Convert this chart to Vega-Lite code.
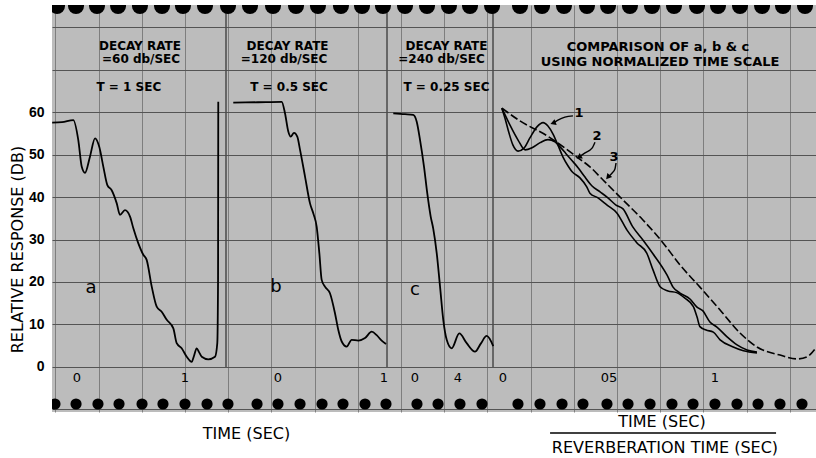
{
  "$schema": "https://vega.github.io/schema/vega-lite/v6.json",
  "width": 764,
  "height": 407,
  "autosize": "none",
  "padding": {"left": 52, "top": 5, "right": 0, "bottom": 46},
  "background": "white",
  "config": {
    "font": "DejaVu Sans",
    "view": {"fill": "#bcbcbc", "stroke": null}
  },
  "datasets": {
    "top_holes": [{"t":-0.185},{"t":-0.009},{"t":0.185},{"t":0.380},{"t":0.583},{"t":0.787},{"t":0.981},{"t":1.185},{"t":1.398},{"t":1.602},{"t":1.815},{"t":2.028},{"t":2.231},{"t":2.444},{"t":2.639},{"t":2.833},{"t":3.037},{"t":3.241},{"t":3.444},{"t":3.639},{"t":3.843},{"t":4.102},{"t":4.306},{"t":4.509},{"t":4.722},{"t":4.917},{"t":5.120},{"t":5.324},{"t":5.528},{"t":5.741},{"t":5.935},{"t":6.139},{"t":6.343},{"t":6.537},{"t":6.741}],
    "bottom_holes": [{"t":-0.204},{"t":-0.009},{"t":0.194},{"t":0.389},{"t":0.602},{"t":0.796},{"t":1.000},{"t":1.204},{"t":1.398},{"t":1.667},{"t":1.861},{"t":2.065},{"t":2.269},{"t":2.463},{"t":2.667},{"t":2.861},{"t":3.148},{"t":3.343},{"t":3.546},{"t":3.750},{"t":4.083},{"t":4.287},{"t":4.491},{"t":4.685},{"t":4.907},{"t":5.102},{"t":5.306},{"t":5.509},{"t":5.704},{"t":5.907},{"t":6.111},{"t":6.306},{"t":6.509},{"t":6.713}],
    "splices": [{"t":1.3796},{"t":2.8704},{"t":3.8519}],
    "curve_a": [{"t":-0.23,"db":57.5},{"t":-0.139,"db":57.6},{"t":-0.034,"db":58.1},{"t":0.012,"db":53.4},{"t":0.044,"db":47.1},{"t":0.074,"db":45.7},{"t":0.120,"db":49.5},{"t":0.167,"db":53.8},{"t":0.206,"db":51.8},{"t":0.244,"db":47.1},{"t":0.281,"db":42.8},{"t":0.321,"db":41.6},{"t":0.368,"db":38.5},{"t":0.398,"db":35.8},{"t":0.444,"db":36.9},{"t":0.491,"db":35.4},{"t":0.521,"db":32.7},{"t":0.568,"db":29.1},{"t":0.614,"db":26.4},{"t":0.645,"db":25.2},{"t":0.692,"db":18.9},{"t":0.738,"db":14.2},{"t":0.784,"db":13.0},{"t":0.831,"db":11.1},{"t":0.892,"db":9.1},{"t":0.923,"db":5.6},{"t":0.969,"db":4.4},{"t":1.016,"db":2.4},{"t":1.062,"db":1.2},{"t":1.083,"db":2.6},{"t":1.108,"db":4.4},{"t":1.130,"db":3.5},{"t":1.155,"db":2.4},{"t":1.216,"db":1.8},{"t":1.278,"db":2.4},{"t":1.299,"db":5.6},{"t":1.306,"db":20.5},{"t":1.308,"db":62.4}],
    "curve_b": [{"t":-0.422,"db":62.2},{"t":-0.189,"db":62.3},{"t":0.035,"db":62.4},{"t":0.066,"db":59.7},{"t":0.097,"db":55.4},{"t":0.120,"db":54.2},{"t":0.151,"db":55.1},{"t":0.182,"db":54.2},{"t":0.208,"db":51.1},{"t":0.255,"db":44.8},{"t":0.302,"db":38.5},{"t":0.335,"db":36.0},{"t":0.365,"db":33.0},{"t":0.390,"db":26.8},{"t":0.412,"db":20.5},{"t":0.443,"db":18.9},{"t":0.491,"db":17.3},{"t":0.538,"db":12.6},{"t":0.569,"db":8.7},{"t":0.601,"db":6.0},{"t":0.648,"db":4.8},{"t":0.695,"db":6.4},{"t":0.758,"db":6.2},{"t":0.821,"db":6.8},{"t":0.884,"db":8.3},{"t":0.931,"db":7.5},{"t":0.978,"db":6.2},{"t":1.019,"db":5.4}],
    "curve_c": [{"t":-0.202,"db":59.7},{"t":-0.093,"db":59.5},{"t":-0.016,"db":59.3},{"t":0.016,"db":57.7},{"t":0.047,"db":53.4},{"t":0.084,"db":47.1},{"t":0.114,"db":40.9},{"t":0.146,"db":35.4},{"t":0.170,"db":32.5},{"t":0.202,"db":26.8},{"t":0.233,"db":18.9},{"t":0.263,"db":11.1},{"t":0.295,"db":6.4},{"t":0.341,"db":4.4},{"t":0.412,"db":7.9},{"t":0.481,"db":5.6},{"t":0.558,"db":3.6},{"t":0.612,"db":5.5},{"t":0.667,"db":7.3},{"t":0.728,"db":4.9}],
    "curves_d": [
      {"curve":"1","tn":-0.006,"db":60.9},{"curve":"1","tn":0.009,"db":58.6},{"curve":"1","tn":0.028,"db":55.1},{"curve":"1","tn":0.047,"db":52.2},{"curve":"1","tn":0.071,"db":50.8},{"curve":"1","tn":0.099,"db":51.5},{"curve":"1","tn":0.127,"db":53.9},{"curve":"1","tn":0.160,"db":56.5},{"curve":"1","tn":0.189,"db":57.5},{"curve":"1","tn":0.212,"db":56.7},{"curve":"1","tn":0.236,"db":54.8},{"curve":"1","tn":0.259,"db":52.2},{"curve":"1","tn":0.283,"db":49.4},{"curve":"1","tn":0.307,"db":47.3},{"curve":"1","tn":0.325,"db":46.0},{"curve":"1","tn":0.363,"db":44.5},{"curve":"1","tn":0.395,"db":42.4},{"curve":"1","tn":0.410,"db":40.9},{"curve":"1","tn":0.448,"db":39.8},{"curve":"1","tn":0.491,"db":38.1},{"curve":"1","tn":0.538,"db":36.2},{"curve":"1","tn":0.585,"db":32.2},{"curve":"1","tn":0.632,"db":29.2},{"curve":"1","tn":0.678,"db":26.8},{"curve":"1","tn":0.708,"db":22.8},{"curve":"1","tn":0.741,"db":18.9},{"curve":"1","tn":0.778,"db":17.9},{"curve":"1","tn":0.819,"db":17.5},{"curve":"1","tn":0.858,"db":16.2},{"curve":"1","tn":0.898,"db":14.2},{"curve":"1","tn":0.915,"db":11.8},{"curve":"1","tn":0.929,"db":9.5},{"curve":"1","tn":0.958,"db":8.7},{"curve":"1","tn":0.992,"db":8.2},{"curve":"1","tn":1.024,"db":6.4},{"curve":"1","tn":1.086,"db":4.7},{"curve":"1","tn":1.134,"db":3.8},{"curve":"1","tn":1.198,"db":3.3},
      {"curve":"2","tn":-0.005,"db":60.9},{"curve":"2","tn":0.033,"db":56.9},{"curve":"2","tn":0.071,"db":53.4},{"curve":"2","tn":0.104,"db":51.1},{"curve":"2","tn":0.137,"db":51.6},{"curve":"2","tn":0.175,"db":52.8},{"curve":"2","tn":0.212,"db":53.5},{"curve":"2","tn":0.245,"db":53.0},{"curve":"2","tn":0.269,"db":51.8},{"curve":"2","tn":0.297,"db":50.2},{"curve":"2","tn":0.325,"db":48.6},{"curve":"2","tn":0.354,"db":46.9},{"curve":"2","tn":0.382,"db":45.0},{"curve":"2","tn":0.420,"db":42.6},{"curve":"2","tn":0.458,"db":41.2},{"curve":"2","tn":0.495,"db":39.8},{"curve":"2","tn":0.533,"db":38.1},{"curve":"2","tn":0.566,"db":37.2},{"curve":"2","tn":0.613,"db":32.9},{"curve":"2","tn":0.660,"db":29.9},{"curve":"2","tn":0.708,"db":26.6},{"curve":"2","tn":0.774,"db":21.6},{"curve":"2","tn":0.802,"db":18.8},{"curve":"2","tn":0.835,"db":17.4},{"curve":"2","tn":0.882,"db":16.0},{"curve":"2","tn":0.915,"db":14.1},{"curve":"2","tn":0.943,"db":13.2},{"curve":"2","tn":0.976,"db":10.6},{"curve":"2","tn":1.009,"db":9.4},{"curve":"2","tn":1.057,"db":7.1},{"curve":"2","tn":1.104,"db":5.2},{"curve":"2","tn":1.151,"db":4.0},{"curve":"2","tn":1.198,"db":3.5}
    ],
    "curve_d3": [{"tn":-0.005,"db":60.9},{"tn":0.080,"db":57.9},{"tn":0.208,"db":54.4},{"tn":0.349,"db":49.4},{"tn":0.410,"db":47.1},{"tn":0.472,"db":44.0},{"tn":0.566,"db":39.3},{"tn":0.660,"db":34.6},{"tn":0.755,"db":29.2},{"tn":0.835,"db":24.0},{"tn":0.929,"db":18.8},{"tn":1.024,"db":13.4},{"tn":1.118,"db":8.0},{"tn":1.198,"db":4.7},{"tn":1.307,"db":2.8},{"tn":1.387,"db":1.9},{"tn":1.434,"db":2.4},{"tn":1.476,"db":4.5}],
    "arrows_d": [
      {"arrow":"1","tn":0.330,"db":59.1},{"arrow":"1","tn":0.292,"db":58.8},{"arrow":"1","tn":0.259,"db":58.1},{"arrow":"1","tn":0.236,"db":57.4},
      {"arrow":"2","tn":0.434,"db":52.9},{"arrow":"2","tn":0.420,"db":51.5},{"arrow":"2","tn":0.387,"db":50.4},{"arrow":"2","tn":0.358,"db":49.4},
      {"arrow":"3","tn":0.533,"db":48.0},{"arrow":"3","tn":0.528,"db":46.6},{"arrow":"3","tn":0.514,"db":45.6},{"arrow":"3","tn":0.495,"db":44.7}
    ],
    "arrow_tips": [{"tn":0.236,"db":57.4,"dir":-110},{"tn":0.358,"db":49.4,"dir":-120},{"tn":0.495,"db":44.7,"dir":-140}],
    "head_a": [{"label":"DECAY RATE","t":0.583,"db":75.5},{"label":"=60 db/SEC","t":0.593,"db":72.5},{"label":"T = 1 SEC","t":0.48,"db":65.9}],
    "ticks_a": [{"label":"0","t":0},{"label":"1","t":1}],
    "letter_a": [{"label":"a","t":0.13,"db":18.6}],
    "head_b": [{"label":"DECAY RATE","t":0.090,"db":75.5},{"label":"=120 db/SEC","t":0.057,"db":72.5},{"label":"T = 0.5 SEC","t":0.104,"db":65.9}],
    "ticks_b": [{"label":"0","t":0},{"label":"1","t":1}],
    "letter_b": [{"label":"b","t":-0.019,"db":18.8}],
    "head_c": [{"label":"DECAY RATE","t":0.293,"db":75.5},{"label":"=240 db/SEC","t":0.247,"db":72.5},{"label":"T = 0.25 SEC","t":0.293,"db":65.9}],
    "ticks_c": [{"label":"0","t":0},{"label":"4","t":0.4}],
    "letter_c": [{"label":"c","t":0.0,"db":18.1}],
    "head_d": [{"label":"COMPARISON OF a, b & c","tn":0.731,"db":75.3},{"label":"USING NORMALIZED TIME SCALE","tn":0.741,"db":71.8}],
    "ticks_d": [{"label":"0","tn":0},{"label":"05","tn":0.5},{"label":"1","tn":1.0}],
    "nums_d": [{"label":"1","tn":0.358,"db":59.8},{"label":"2","tn":0.443,"db":54.4},{"label":"3","tn":0.524,"db":49.4}],
    "frac_d": [{"label":"TIME (SEC)","tn":0.750,"db":-12.94},{"label":"REVERBERATION TIME (SEC)","tn":0.764,"db":-19.06}],
    "bar_d": [{"from":0.222,"to":1.288}]
  },
  "resolve": {"scale": {"x": "independent"}, "axis": {"x": "independent"}},
  "layer": [
    {
      "layer": [
        {
          "data": {"name": "splices"},
          "mark": {"type": "rule", "color": "#4a4a4a", "strokeWidth": 1.5},
          "encoding": {
            "x": {"field": "t", "type": "quantitative",
              "scale": {"domain": [-0.2315, 6.8426], "nice": false, "zero": false},
              "axis": {
                "values": [-0.2,0,0.2,0.4,0.6,0.8,1,1.2,1.4,1.6,1.8,2,2.2,2.4,2.6,2.8,3,3.2,3.4,3.6,3.8,4,4.2,4.4,4.6,4.8,5,5.2,5.4,5.6,5.8,6,6.2,6.4,6.6,6.8],
                "grid": true, "gridColor": "#7e7e7e", "gridWidth": 1,
                "labels": false, "ticks": false, "domain": false,
                "title": "TIME (SEC)", "titleX": 194, "titleY": 21,
                "titleBaseline": "middle", "titleAlign": "center",
                "titleFontSize": 16, "titleFontWeight": "normal", "titleColor": "black", "titleFont": "DejaVu Sans"
              }
            },
            "y": {"datum": 0, "type": "quantitative",
              "scale": {"domain": [-10.59, 85.18], "nice": false, "zero": false},
              "axis": {
                "values": [-10,-5,0,5,10,15,20,25,30,35,40,45,50,55,60,65,70,75,80,85],
                "grid": true,
                "gridColor": {"condition": {"test": "datum.value % 10 === 0", "value": "#545454"}, "value": "#8e8e8e"},
                "gridWidth": 1,
                "labelExpr": "datum.value >= 0 && datum.value <= 60 && datum.value % 10 === 0 ? datum.label : ''",
                "ticks": false, "domain": false, "labelPadding": 8,
                "labelFont": "Liberation Sans", "labelFontWeight": "bold", "labelFontSize": 14, "labelColor": "black",
                "title": "RELATIVE RESPONSE (DB)", "titleX": -35, "titleY": 244, "titleAngle": -90,
                "titleBaseline": "middle", "titleAlign": "center",
                "titleFontSize": 16, "titleFontWeight": "normal", "titleColor": "black", "titleFont": "DejaVu Sans"
              }
            },
            "y2": {"datum": 85.18}
          }
        },
        {
          "data": {"name": "top_holes"},
          "mark": {"type": "point", "shape": "circle", "filled": true, "color": "black", "opacity": 1, "size": 256, "clip": true},
          "encoding": {
            "x": {"field": "t", "type": "quantitative"},
            "y": {"datum": 84.94, "type": "quantitative"}
          }
        },
        {
          "data": {"name": "bottom_holes"},
          "mark": {"type": "point", "shape": "circle", "filled": true, "color": "black", "opacity": 1, "size": 125, "clip": true},
          "encoding": {
            "x": {"field": "t", "type": "quantitative"},
            "y": {"datum": -8.7, "type": "quantitative"}
          }
        }
      ]
    },
    {
      "layer": [
        {
          "data": {"name": "curve_a"},
          "mark": {"type": "line", "interpolate": "monotone", "color": "black", "strokeWidth": 1.8},
          "encoding": {
            "x": {"field": "t", "type": "quantitative", "scale": {"domain": [-0.2315, 6.8426], "nice": false, "zero": false}, "axis": null},
            "y": {"field": "db", "type": "quantitative", "scale": {"domain": [-10.59, 85.18], "nice": false, "zero": false}}
          }
        },
        {
          "data": {"name": "head_a"},
          "mark": {"type": "text", "fontSize": 12, "fontWeight": "bold", "color": "black", "align": "center", "baseline": "middle"},
          "encoding": {"x": {"field": "t", "type": "quantitative"}, "y": {"field": "db", "type": "quantitative"}, "text": {"field": "label"}}
        },
        {
          "data": {"name": "ticks_a"},
          "mark": {"type": "text", "fontSize": 13, "color": "black", "align": "center", "baseline": "middle"},
          "encoding": {"x": {"field": "t", "type": "quantitative"}, "y": {"datum": -2.6, "type": "quantitative"}, "text": {"field": "label"}}
        },
        {
          "data": {"name": "letter_a"},
          "mark": {"type": "text", "fontSize": 18, "color": "black", "align": "center", "baseline": "middle"},
          "encoding": {"x": {"field": "t", "type": "quantitative"}, "y": {"field": "db", "type": "quantitative"}, "text": {"field": "label"}}
        }
      ]
    },
    {
      "layer": [
        {
          "data": {"name": "curve_b"},
          "mark": {"type": "line", "interpolate": "monotone", "color": "black", "strokeWidth": 1.8},
          "encoding": {
            "x": {"field": "t", "type": "quantitative", "scale": {"domain": [-2.1321, 5.0755], "nice": false, "zero": false}, "axis": null},
            "y": {"field": "db", "type": "quantitative", "scale": {"domain": [-10.59, 85.18], "nice": false, "zero": false}}
          }
        },
        {
          "data": {"name": "head_b"},
          "mark": {"type": "text", "fontSize": 12, "fontWeight": "bold", "color": "black", "align": "center", "baseline": "middle"},
          "encoding": {"x": {"field": "t", "type": "quantitative"}, "y": {"field": "db", "type": "quantitative"}, "text": {"field": "label"}}
        },
        {
          "data": {"name": "ticks_b"},
          "mark": {"type": "text", "fontSize": 13, "color": "black", "align": "center", "baseline": "middle"},
          "encoding": {"x": {"field": "t", "type": "quantitative"}, "y": {"datum": -2.6, "type": "quantitative"}, "text": {"field": "label"}}
        },
        {
          "data": {"name": "letter_b"},
          "mark": {"type": "text", "fontSize": 18, "color": "black", "align": "center", "baseline": "middle"},
          "encoding": {"x": {"field": "t", "type": "quantitative"}, "y": {"field": "db", "type": "quantitative"}, "text": {"field": "label"}}
        }
      ]
    },
    {
      "layer": [
        {
          "data": {"name": "curve_c"},
          "mark": {"type": "line", "interpolate": "monotone", "color": "black", "strokeWidth": 1.8},
          "encoding": {
            "x": {"field": "t", "type": "quantitative", "scale": {"domain": [-3.3767, 3.7302], "nice": false, "zero": false}, "axis": null},
            "y": {"field": "db", "type": "quantitative", "scale": {"domain": [-10.59, 85.18], "nice": false, "zero": false}}
          }
        },
        {
          "data": {"name": "head_c"},
          "mark": {"type": "text", "fontSize": 12, "fontWeight": "bold", "color": "black", "align": "center", "baseline": "middle"},
          "encoding": {"x": {"field": "t", "type": "quantitative"}, "y": {"field": "db", "type": "quantitative"}, "text": {"field": "label"}}
        },
        {
          "data": {"name": "ticks_c"},
          "mark": {"type": "text", "fontSize": 13, "color": "black", "align": "center", "baseline": "middle"},
          "encoding": {"x": {"field": "t", "type": "quantitative"}, "y": {"datum": -2.6, "type": "quantitative"}, "text": {"field": "label"}}
        },
        {
          "data": {"name": "letter_c"},
          "mark": {"type": "text", "fontSize": 18, "color": "black", "align": "center", "baseline": "middle"},
          "encoding": {"x": {"field": "t", "type": "quantitative"}, "y": {"field": "db", "type": "quantitative"}, "text": {"field": "label"}}
        }
      ]
    },
    {
      "layer": [
        {
          "data": {"name": "curves_d"},
          "mark": {"type": "line", "interpolate": "monotone", "color": "black", "strokeWidth": 1.6},
          "encoding": {
            "x": {"field": "tn", "type": "quantitative", "scale": {"domain": [-2.1274, 1.4764], "nice": false, "zero": false}, "axis": null},
            "y": {"field": "db", "type": "quantitative", "scale": {"domain": [-10.59, 85.18], "nice": false, "zero": false}},
            "detail": {"field": "curve"}
          }
        },
        {
          "data": {"name": "curve_d3"},
          "mark": {"type": "line", "interpolate": "monotone", "color": "black", "strokeWidth": 1.6, "strokeDash": [8, 3]},
          "encoding": {"x": {"field": "tn", "type": "quantitative"}, "y": {"field": "db", "type": "quantitative"}}
        },
        {
          "data": {"name": "arrows_d"},
          "mark": {"type": "line", "interpolate": "monotone", "color": "black", "strokeWidth": 1.4},
          "encoding": {"x": {"field": "tn", "type": "quantitative"}, "y": {"field": "db", "type": "quantitative"}, "detail": {"field": "arrow"}}
        },
        {
          "data": {"name": "arrow_tips"},
          "mark": {"type": "point", "shape": "triangle-up", "filled": true, "color": "black", "opacity": 1, "size": 40},
          "encoding": {"x": {"field": "tn", "type": "quantitative"}, "y": {"field": "db", "type": "quantitative"}, "angle": {"field": "dir", "type": "quantitative", "scale": null}}
        },
        {
          "data": {"name": "head_d"},
          "mark": {"type": "text", "fontSize": 13, "fontWeight": "bold", "color": "black", "align": "center", "baseline": "middle"},
          "encoding": {"x": {"field": "tn", "type": "quantitative"}, "y": {"field": "db", "type": "quantitative"}, "text": {"field": "label"}}
        },
        {
          "data": {"name": "ticks_d"},
          "mark": {"type": "text", "fontSize": 13, "color": "black", "align": "center", "baseline": "middle"},
          "encoding": {"x": {"field": "tn", "type": "quantitative"}, "y": {"datum": -2.6, "type": "quantitative"}, "text": {"field": "label"}}
        },
        {
          "data": {"name": "nums_d"},
          "mark": {"type": "text", "fontSize": 13, "fontWeight": "bold", "color": "black", "align": "center", "baseline": "middle"},
          "encoding": {"x": {"field": "tn", "type": "quantitative"}, "y": {"field": "db", "type": "quantitative"}, "text": {"field": "label"}}
        },
        {
          "data": {"name": "frac_d"},
          "mark": {"type": "text", "fontSize": 16, "color": "black", "align": "center", "baseline": "middle"},
          "encoding": {"x": {"field": "tn", "type": "quantitative"}, "y": {"field": "db", "type": "quantitative"}, "text": {"field": "label"}}
        },
        {
          "data": {"name": "bar_d"},
          "mark": {"type": "rule", "color": "black", "strokeWidth": 1.5},
          "encoding": {"x": {"field": "from", "type": "quantitative"}, "x2": {"field": "to"}, "y": {"datum": -15.53, "type": "quantitative"}}
        }
      ]
    }
  ]
}
